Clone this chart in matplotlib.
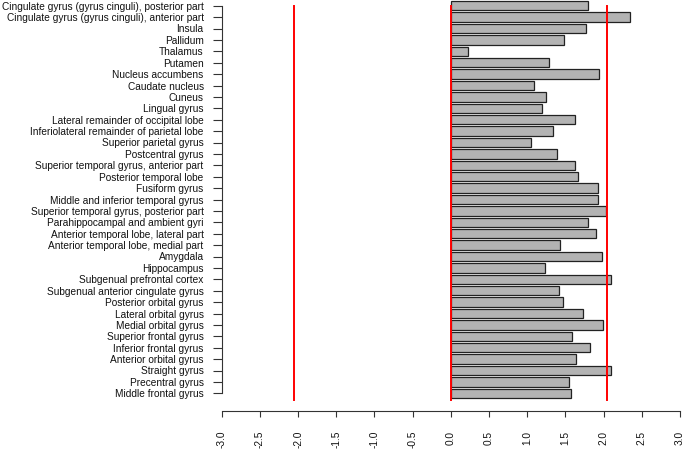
import numpy as np
import matplotlib.pyplot as plt

regions = [
    "Cingulate gyrus (gyrus cinguli), posterior part",
    "Cingulate gyrus (gyrus cinguli), anterior part",
    "Insula",
    "Pallidum",
    "Thalamus",
    "Putamen",
    "Nucleus accumbens",
    "Caudate nucleus",
    "Cuneus",
    "Lingual gyrus",
    "Lateral remainder of occipital lobe",
    "Inferiolateral remainder of parietal lobe",
    "Superior parietal gyrus",
    "Postcentral gyrus",
    "Superior temporal gyrus, anterior part",
    "Posterior temporal lobe",
    "Fusiform gyrus",
    "Middle and inferior temporal gyrus",
    "Superior temporal gyrus, posterior part",
    "Parahippocampal and ambient gyri",
    "Anterior temporal lobe, lateral part",
    "Anterior temporal lobe, medial part",
    "Amygdala",
    "Hippocampus",
    "Subgenual prefrontal cortex",
    "Subgenual anterior cingulate gyrus",
    "Posterior orbital gyrus",
    "Lateral orbital gyrus",
    "Medial orbital gyrus",
    "Superior frontal gyrus",
    "Inferior frontal gyrus",
    "Anterior orbital gyrus",
    "Straight gyrus",
    "Precentral gyrus",
    "Middle frontal gyrus",
]

# values, top to bottom
values = [1.80, 2.34, 1.77, 1.48, 0.23, 1.29, 1.94, 1.09, 1.25, 1.19,
          1.62, 1.34, 1.05, 1.39, 1.62, 1.66, 1.93, 1.93, 2.03, 1.80,
          1.90, 1.43, 1.98, 1.23, 2.10, 1.41, 1.47, 1.73, 1.99, 1.59,
          1.82, 1.64, 2.10, 1.55, 1.57]

thresholds = [-2.05, 0.0, 2.05]
xticks = np.arange(-3.0, 3.01, 0.5)

plt.rcParams['font.family'] = ['Liberation Sans', 'DejaVu Sans']

W, H = 685, 449
fig = plt.figure(figsize=(W / 100, H / 100), dpi=100)

x0, x1 = 221.7, 680.0
ytop, ybot = 5.7, 393.3
n = len(regions)
step = (ybot - ytop) / (n - 1)
yaxis_px = 410.7
ylo = -(yaxis_px - ybot) / step
yhi = (n - 1) + ytop / step

ax = fig.add_axes([x0 / W, 1 - yaxis_px / H, (x1 - x0) / W, yaxis_px / H])
ax.set_xlim(-3, 3)
ax.set_ylim(ylo, yhi)

# bottom bar is index 0
ypos = np.arange(n)
vals = values[::-1]
labs = regions[::-1]
ax.barh(ypos, vals, height=1 / 1.2, color='#b3b3b3', edgecolor='#222222',
        linewidth=0.9, zorder=2)

for t in thresholds:
    ax.plot([t, t], [-0.6, n - 1], color='#ff0000', linewidth=1.4, zorder=3)

ax.set_yticks(ypos)
ax.set_yticklabels(labs, fontsize=7.3)
ax.set_xticks(xticks)
ax.set_xticklabels(['%.1f' % v for v in xticks], rotation=90, fontsize=7.3)

for s in ['top', 'right']:
    ax.spines[s].set_visible(False)
ax.spines['left'].set_bounds(0, n - 1)
ax.spines['bottom'].set_bounds(-3, 3)
for s in ['left', 'bottom']:
    ax.spines[s].set_linewidth(0.8)
    ax.spines[s].set_color('#333333')

ax.tick_params(axis='y', length=6.5, width=0.8, pad=6.5, colors='#333333',
               labelcolor='#111111')
ax.tick_params(axis='x', length=4.3, width=0.8, pad=10, colors='#333333',
               labelcolor='#111111')

fig.savefig('out.png', dpi=100)
